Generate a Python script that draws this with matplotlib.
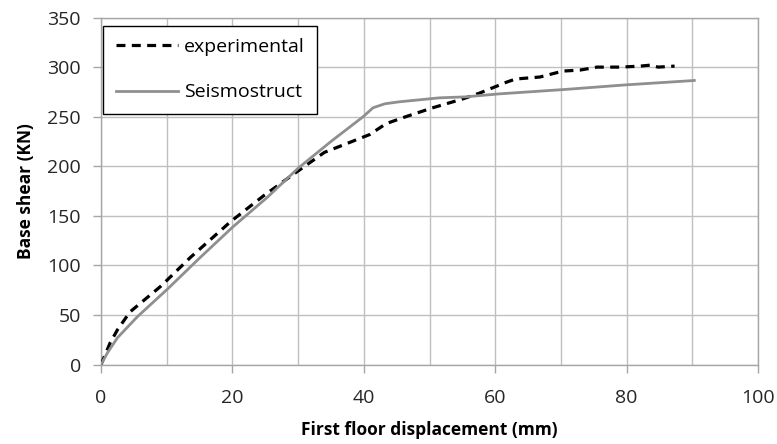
import matplotlib.pyplot as plt
from matplotlib.ticker import MultipleLocator

# Experimental pushover curve
exp_disp = [0, 1.4, 2.5, 4.4, 9.1, 13.6, 19.7, 24.7, 29.3, 34.0, 40.9, 43.4, 46.4,
            50.5, 55.1, 57.7, 61.8, 63.1, 66.8, 70.3, 72.9, 75.5, 79.0, 82.1,
            83.6, 84.8, 87.3]
exp_shear = [0, 22, 35, 53, 79, 108, 144, 170, 192, 214, 232, 243, 250,
             259, 268, 274, 285, 288, 290, 296, 297, 300, 300, 301,
             302, 300, 301]

# Seismostruct numerical curve
ss_disp = [0, 1, 2.5, 5.5, 10.1, 15.1, 20.1, 25.2, 30.0, 35.0, 39.9, 41.4, 43.2,
           45.4, 51.5, 55.5, 60.6, 70.7, 79.7, 90.3]
ss_shear = [0, 12, 27, 48, 76, 108, 139, 168, 198, 225, 250, 259, 263,
            265, 269, 270, 273, 277.5, 282, 286.5]

FONT = ['Open Sans', 'DejaVu Sans']
plt.rcParams['font.family'] = FONT

fig = plt.figure(figsize=(7.77, 4.44), dpi=100)
ax = fig.add_axes([0.130, 0.179, 0.8456, 0.7815])

ax.plot(exp_disp, exp_shear, color='black', linewidth=2.3,
        linestyle=(0, (2.8, 2.0)), label='experimental', zorder=3)
ax.plot(ss_disp, ss_shear, color='#8f8f8f', linewidth=2.0,
        label='Seismostruct', zorder=3)

ax.set_xlim(0, 100)
ax.set_ylim(0, 350)
ax.xaxis.set_major_locator(MultipleLocator(20))
ax.xaxis.set_minor_locator(MultipleLocator(10))
ax.yaxis.set_major_locator(MultipleLocator(50))

ax.grid(which='both', axis='x', color='#bfbfbf', linewidth=1.0)
ax.grid(which='major', axis='y', color='#bfbfbf', linewidth=1.0)
ax.tick_params(axis='x', which='minor', length=0)
ax.tick_params(axis='both', which='major', length=5.5, color='#a6a6a6',
               width=1.0, labelsize=14, labelcolor='#262626')
ax.tick_params(axis='x', which='major', pad=12)
ax.tick_params(axis='y', which='major', pad=9)
for side in ax.spines.values():
    side.set_color('#a6a6a6')
    side.set_linewidth(1.0)

ax.set_xlabel('First floor displacement (mm)', fontsize=12.5,
              fontweight='bold', labelpad=10)
ax.set_ylabel('Base shear (KN)', fontsize=12.5, fontweight='bold',
              labelpad=9)

leg = ax.legend(loc='upper left', bbox_to_anchor=(0.003, 0.977),
                fancybox=False, framealpha=1, edgecolor='black',
                prop={'size': 14}, handlelength=3.2, borderpad=0.65,
                labelspacing=1.4, borderaxespad=0, handletextpad=0.3)
leg.get_frame().set_linewidth(1.0)

plt.savefig('out.png', dpi=100)
plt.close()
